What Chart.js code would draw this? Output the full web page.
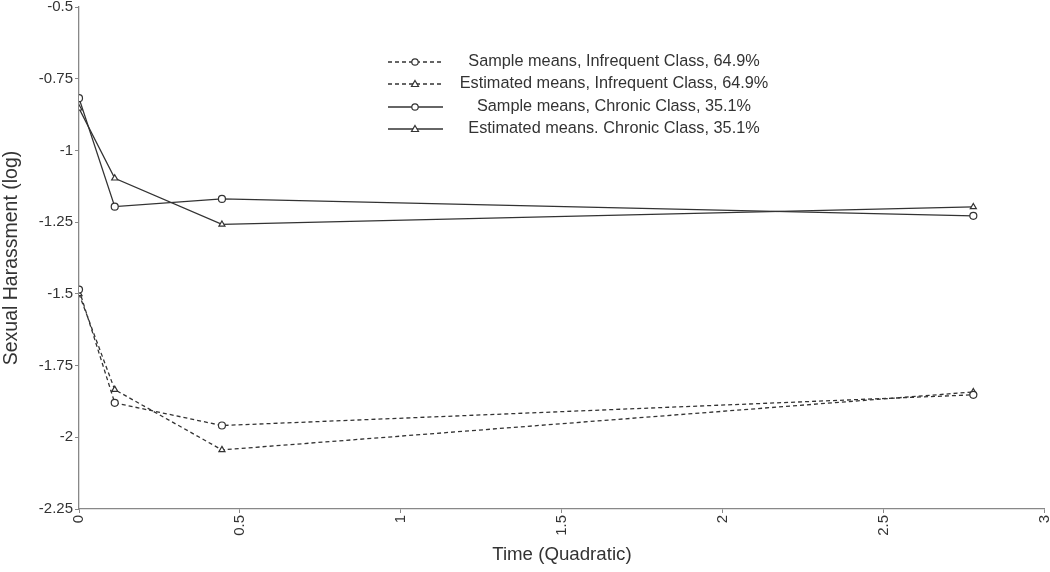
<!DOCTYPE html>
<html>
<head>
<meta charset="utf-8">
<script src="https://cdn.jsdelivr.net/npm/chart.js@4.4.0/dist/chart.umd.min.js"></script>
<style>
  html, body { margin: 0; padding: 0; background: #fff; }
  #wrap { width: 1050px; height: 572px; }
</style>
</head>
<body>
<div id="wrap"><canvas id="chart" width="1050" height="572"></canvas></div>
<script>
// time points (quadratic coding)
const times = [0, 0.111, 0.444, 2.778];

const sampleInfrequent = [-1.485, -1.880, -1.959, -1.852];
const estInfrequent    = [-1.500, -1.834, -2.044, -1.842];
const sampleChronic    = [-0.818, -1.196, -1.169, -1.228];
const estChronic       = [-0.853, -1.097, -1.258, -1.197];

const seriesNames = [
    'Sample means, Infrequent Class, 64.9%',
    'Estimated means, Infrequent Class, 64.9%',
    'Sample means, Chronic Class, 35.1%',
    'Estimated means. Chronic Class, 35.1%'
];

const FONT = '"Liberation Sans", Arial, sans-serif';
const INK = '#333';

function pts(ys) {
    return times.map((t, i) => ({ x: t, y: ys[i] }));
}

function series(label, ys, dashed, style) {
    return {
        label: label,
        data: pts(ys),
        borderColor: INK,
        borderWidth: 1.3,
        borderDash: dashed ? [4, 3] : [],
        pointStyle: style,
        pointRadius: 3.5,
        pointBackgroundColor: '#fff',
        pointBorderColor: INK,
        pointBorderWidth: 1.2,
        tension: 0,
        fill: false
    };
}

// legend drawn inside the plot, text centred in one column
const legendBox = {
    id: 'legendBox',
    afterDraw(chart) {
        const ctx = chart.ctx;
        const rows = [62, 84, 107, 129];
        ctx.save();
        chart.data.datasets.forEach((ds, i) => {
            const y = rows[i];
            ctx.strokeStyle = ds.borderColor;
            ctx.lineWidth = ds.borderWidth;
            ctx.setLineDash(ds.borderDash);
            ctx.beginPath();
            ctx.moveTo(388, y);
            ctx.lineTo(443, y);
            ctx.stroke();
            ctx.setLineDash([]);
            ctx.fillStyle = '#fff';
            ctx.lineWidth = 1.2;
            ctx.beginPath();
            if (ds.pointStyle === 'circle') {
                ctx.arc(415, y, 3.2, 0, Math.PI * 2);
            } else {
                ctx.moveTo(415, y - 3.5);
                ctx.lineTo(418.5, y + 2.5);
                ctx.lineTo(411.5, y + 2.5);
                ctx.closePath();
            }
            ctx.fill();
            ctx.stroke();
            ctx.fillStyle = INK;
            ctx.font = '16.3px ' + FONT;
            ctx.textAlign = 'center';
            ctx.textBaseline = 'middle';
            ctx.fillText(ds.label, 614, y);
        });
        ctx.restore();
    }
};

new Chart(document.getElementById('chart'), {
    type: 'line',
    data: {
        datasets: [
            series(seriesNames[0], sampleInfrequent, true, 'circle'),
            series(seriesNames[1], estInfrequent, true, 'triangle'),
            series(seriesNames[2], sampleChronic, false, 'circle'),
            series(seriesNames[3], estChronic, false, 'triangle')
        ]
    },
    options: {
        responsive: false,
        animation: false,
        layout: { padding: { top: 0, right: 5, left: 0, bottom: 0 } },
        plugins: {
            legend: { display: false },
            tooltip: { enabled: false }
        },
        scales: {
            x: {
                type: 'linear',
                min: 0,
                max: 3,
                afterFit(s) { s.height = 63; s.paddingRight = 0; s.paddingLeft = 0; },
                ticks: {
                    stepSize: 0.5,
                    minRotation: 90,
                    maxRotation: 90,
                    color: INK,
                    font: { family: FONT, size: 15 },
                    padding: 2,
                    callback: v => String(+v.toFixed(2))
                },
                grid: { drawOnChartArea: false, drawTicks: true, tickLength: 4, color: '#888' },
                border: { color: '#888', width: 1.3 },
                title: {
                    display: true,
                    text: 'Time (Quadratic)',
                    color: INK,
                    font: { family: FONT, size: 18.7 },
                    padding: { top: 2, bottom: 6 }
                }
            },
            y: {
                type: 'linear',
                min: -2.25,
                max: -0.5,
                afterFit(s) { s.width = 79; s.paddingTop = 7; s.paddingBottom = 0; },
                ticks: {
                    stepSize: 0.25,
                    color: INK,
                    font: { family: FONT, size: 15 },
                    padding: 2,
                    callback: v => String(+v.toFixed(2))
                },
                grid: { drawOnChartArea: false, drawTicks: true, tickLength: 4, color: '#888' },
                border: { color: '#888', width: 1.3 },
                title: {
                    display: true,
                    text: 'Sexual Harassment (log)',
                    color: INK,
                    font: { family: FONT, size: 19.5 },
                    padding: { top: 0, bottom: 2 }
                }
            }
        }
    },
    plugins: [legendBox]
});
</script>
</body>
</html>
